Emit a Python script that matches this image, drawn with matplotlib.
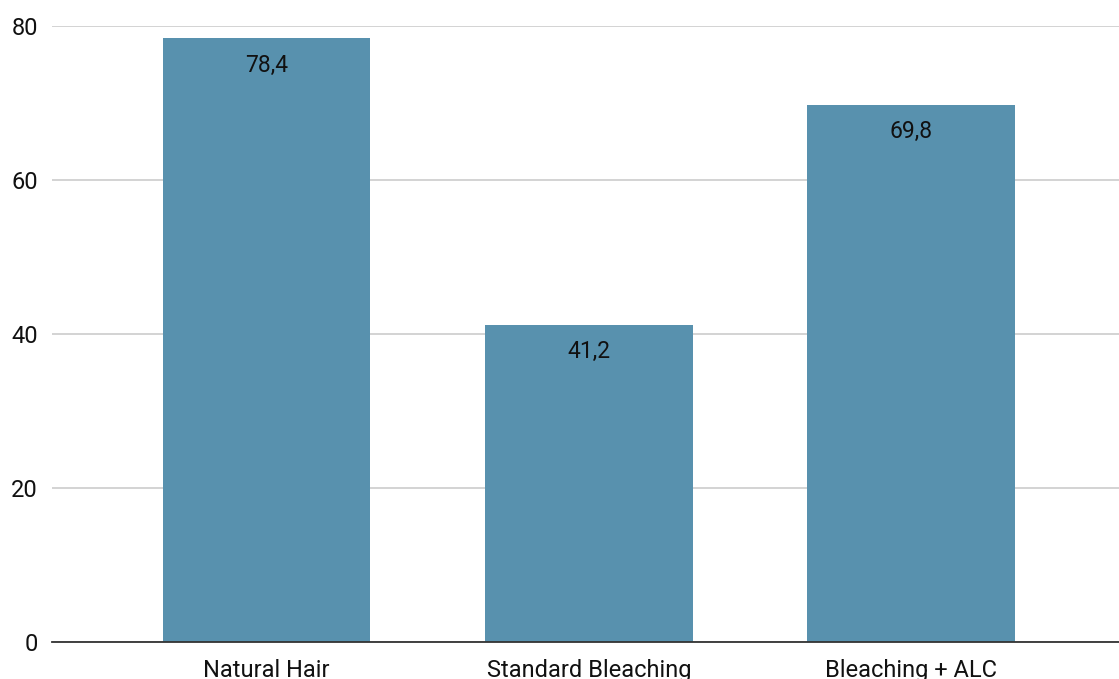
import matplotlib
matplotlib.use("Agg")
import matplotlib.pyplot as plt

categories = ["Natural Hair", "Standard Bleaching", "Bleaching + ALC"]
values = [78.4, 41.2, 69.8]
value_labels = ["78,4", "41,2", "69,8"]
yticks = [0, 20, 40, 60, 80]

plt.rcParams['font.family'] = ['Roboto', 'DejaVu Sans']

fig = plt.figure(figsize=(11.19, 6.79), dpi=100)
ax = fig.add_axes([52 / 1119, 1 - 642 / 679, 1 - 52 / 1119, (642 - 26) / 679])

x = range(len(categories))
bars = ax.bar(x, values, width=0.644, color="#5891ae", zorder=3)

for b, lab in zip(bars, value_labels):
    ax.annotate(lab, (b.get_x() + b.get_width() / 2, b.get_height()),
                xytext=(0, -19.5), textcoords="offset points",
                ha="center", va="center", fontsize=16.5, color="#111111", zorder=4)

ax.set_xlim(-0.666, 2.645)
ax.set_ylim(0, 80)
ax.set_yticks(yticks)
ax.set_xticks(list(x))
ax.set_xticklabels(categories)
ax.tick_params(axis="both", labelsize=17, length=0, colors="#111111")
ax.tick_params(axis="y", pad=10)
ax.tick_params(axis="x", pad=12)
ax.grid(axis="y", color="#cccccc", linewidth=1.2, zorder=0)
for s in ["top", "right", "left"]:
    ax.spines[s].set_visible(False)
ax.spines["bottom"].set_color("#333333")
ax.spines["bottom"].set_linewidth(1.3)
ax.spines["bottom"].set_zorder(5)

fig.savefig("out.png", dpi=100)
